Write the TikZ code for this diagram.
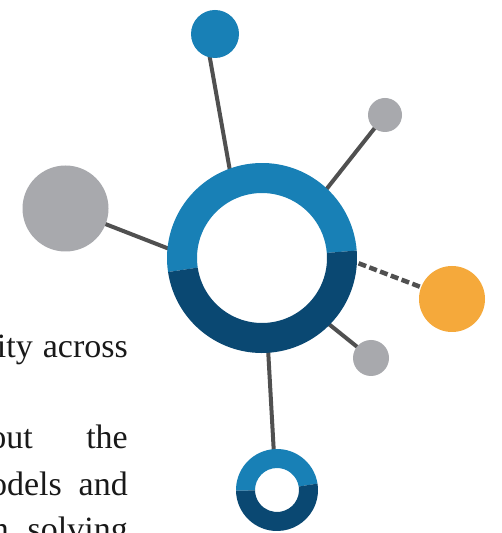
\documentclass[tikz,border=0pt]{standalone}
\usepackage{fontspec}
\setmainfont{Liberation Serif}
\usetikzlibrary{backgrounds}
\pgfdeclarelayer{background}
\pgfdeclarelayer{links}
\pgfsetlayers{background,links,main}
\definecolor{lblue}{HTML}{1880B6}
\definecolor{dblue}{HTML}{0A4872}
\definecolor{dotgray}{HTML}{A8A9AD}
\definecolor{dotorange}{HTML}{F5A93B}
\definecolor{linegray}{HTML}{505050}
\begin{document}
\begin{tikzpicture}[x=1pt,y=1pt,
  show background rectangle,
  inner frame sep=0pt,
  background rectangle/.style={fill=white,draw=none},
  link/.style={draw=linegray,line width=4pt},
  dashlink/.style={draw=linegray,line width=4.5pt,dash pattern=on 8pt off 3.5pt},
  dot/.style={circle,inner sep=0pt,minimum size=#1},
  txt/.style={font=\fontsize{34}{40}\selectfont,inner sep=0pt,text=black!90}]
\path[use as bounding box] (0,0) rectangle (502,533);
\clip (0,0) rectangle (502,533);

% satellite nodes
\node[dot=48pt,fill=lblue] (T) at (215,499) {};
\node[dot=34pt,fill=dotgray] (TR) at (385,418) {};
\node[dot=86pt,fill=dotgray] (L) at (65.5,324.5) {};
\node[dot=66pt,fill=dotorange] (O) at (452,234) {};
\node[dot=36pt,fill=dotgray] (BR) at (371,175) {};

% main ring
\node[dot=190pt] (C) at (262,275) {};
\fill[lblue] ([shift={(C.center)}]4.5:95pt) arc[start angle=4.5,end angle=188.5,radius=95pt]
  -- ([shift={(C.center)}]188.5:65pt) arc[start angle=188.5,end angle=4.5,radius=65pt] -- cycle;
\fill[dblue] ([shift={(C.center)}]188.5:95pt) arc[start angle=188.5,end angle=364.5,radius=95pt]
  -- ([shift={(C.center)}]364.5:65pt) arc[start angle=364.5,end angle=188.5,radius=65pt] -- cycle;

% bottom ring
\node[dot=82pt] (B) at (277,43) {};
\fill[lblue] ([shift={(B.center)}]9:41pt) arc[start angle=9,end angle=181,radius=41pt]
  -- ([shift={(B.center)}]181:22pt) arc[start angle=181,end angle=9,radius=22pt] -- cycle;
\fill[dblue] ([shift={(B.center)}]181:41pt) arc[start angle=181,end angle=369,radius=41pt]
  -- ([shift={(B.center)}]369:22pt) arc[start angle=369,end angle=181,radius=22pt] -- cycle;

% connector end points on the rings
\coordinate (eT) at (230,362);
\coordinate (eTR) at (325,342);
\coordinate (eL) at (172,283);
\coordinate (eO) at (350,273);
\coordinate (eBR) at (325,212);
\coordinate (eB) at (268,185);
\coordinate (sT) at (209,480);
\coordinate (sB) at (274,78);

\begin{pgfonlayer}{links}
\draw[link] (sT) -- (eT);
\draw[link] (TR.center) -- (eTR);
\draw[link] (L.center) -- (eL);
\draw[dashlink] (O.center) -- (eO);
\draw[link] (BR.center) -- (eBR);
\draw[link] (sB) -- (eB);
\end{pgfonlayer}

% text (cut at left edge)
\node[txt,anchor=base east] (w1) at (33,175) {ity};
\node[txt,anchor=base east] (w2) at (128,175) {across};
\node[txt,anchor=base east] (w3) at (33,84) {out};
\node[txt,anchor=base east] (w4) at (128,84) {the};
\node[txt,anchor=base east] (w5) at (62,37) {odels};
\node[txt,anchor=base east] (w6) at (128,37) {and};
\node[txt,anchor=base east] (w7) at (9,-8) {n};
\node[txt,anchor=base east] (w8) at (128,-8) {solving};
\end{tikzpicture}
\end{document}
